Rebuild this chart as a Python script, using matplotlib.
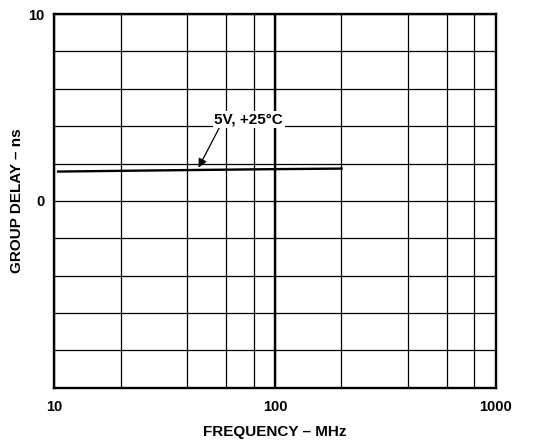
import numpy as np
import matplotlib
matplotlib.use("Agg")
import matplotlib.pyplot as plt

plt.rcParams['font.family'] = ['Liberation Sans', 'DejaVu Sans']
plt.rcParams['font.weight'] = 'bold'

# data
freq_mhz = [10.4, 20, 40, 100, 200]
delay_ns = [1.57, 1.61, 1.65, 1.70, 1.73]

x_major = [10, 100, 1000]
x_labels = ["10", "100", "1000"]
x_minor = [20, 40, 60, 80, 200, 400, 600, 800]
y_ticks = list(range(-10, 11, 2))
y_labels = ["10" if v == 10 else "0" if v == 0 else "" for v in y_ticks]

fig = plt.figure(figsize=(5.46, 4.42), dpi=100)
ax = fig.add_axes([0.0995, 0.123, 0.8085, 0.845])

ax.set_xscale("log")
ax.set_xlim(10, 1000)
ax.set_ylim(-10, 10)

ax.set_xticks(x_major)
ax.set_xticklabels(x_labels)
ax.set_xticks(x_minor, minor=True)
ax.set_xticklabels([], minor=True)
ax.set_yticks(y_ticks)
ax.set_yticklabels(y_labels)

ax.tick_params(which="both", length=0, labelsize=10.5)
ax.tick_params(axis="x", pad=9)
ax.tick_params(axis="y", pad=7)

ax.grid(True, which="both", color="black", linewidth=0.9)
ax.axvline(100, color="black", linewidth=1.7)
for s in ax.spines.values():
    s.set_linewidth(1.7)

ax.plot(freq_mhz, delay_ns, color="black", linewidth=1.7, zorder=3)

ax.annotate("5V, +25°C", xy=(45, 1.78), xytext=(76, 4.35),
            ha="center", va="center", fontsize=11, fontweight="bold",
            bbox=dict(boxstyle="square,pad=0.1", fc="white", ec="none"),
            arrowprops=dict(arrowstyle="-|>", color="black", lw=0.9,
                            shrinkA=0, shrinkB=0, mutation_scale=13,
                            relpos=(0.08, 0.0)),
            zorder=4)

ax.set_xlabel("FREQUENCY – MHz", fontsize=11, fontweight="bold", labelpad=8)
ax.set_ylabel("GROUP DELAY – ns", fontsize=11, fontweight="bold", labelpad=3)

fig.savefig("out.png", dpi=100)
